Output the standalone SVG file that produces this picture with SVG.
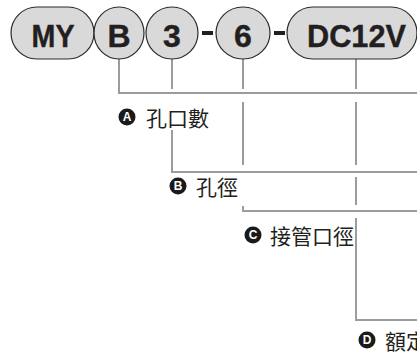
<svg xmlns="http://www.w3.org/2000/svg" width="417" height="354" viewBox="0 0 417 354">
<style>
.pill{fill:#d9d9d9;stroke:#2b2b2b;stroke-width:1.2}
.code{font-family:"Liberation Sans",Arial,sans-serif;font-weight:bold;font-size:32px;fill:#231f20;text-anchor:middle;stroke:#231f20;stroke-width:0.4}
.dash{fill:#231f20}
.conn{fill:none;stroke:#9c9c9c;stroke-width:2}
.badge{fill:#1a1a1a}
.bl{font-family:"Liberation Sans",Arial,sans-serif;font-weight:bold;font-size:12px;fill:#fff;text-anchor:middle}
.lab{font-family:"Noto Sans CJK TC","Noto Sans CJK SC",sans-serif;font-size:21px;fill:#231f20}
</style>
<g id="connectors">
<path class="conn" d="M119,59 V93 H417"/>
<path class="conn" d="M172,59 V89 M172,130 V172 H417"/>
<path class="conn" d="M243,59 V89 M243,102 V165 M243,206 V211 H417"/>
<path class="conn" d="M356,59 V89 M356,102 V165 M356,177 V205 M356,218 V320 H417"/>
</g>
<g id="node-MY">
<rect class="pill" x="11" y="7" width="83" height="52" rx="26" ry="26"/>
<text class="code" x="53" y="46.5" textLength="43" lengthAdjust="spacingAndGlyphs">MY</text>
</g>
<g id="node-B">
<ellipse class="pill" cx="119" cy="33" rx="25" ry="26"/>
<text class="code" x="119" y="46.5">B</text>
</g>
<g id="node-3">
<ellipse class="pill" cx="172" cy="33" rx="26" ry="26"/>
<text class="code" x="172" y="46.5">3</text>
</g>
<rect class="dash" x="202" y="31" width="11" height="4"/>
<g id="node-6">
<ellipse class="pill" cx="243" cy="33" rx="27" ry="26"/>
<text class="code" x="243" y="46.5">6</text>
</g>
<rect class="dash" x="274" y="31" width="11" height="4"/>
<g id="node-DC12V">
<rect class="pill" x="287" y="7" width="130" height="52" rx="26" ry="26"/>
<text class="code" x="356.5" y="46.5" textLength="99" lengthAdjust="spacingAndGlyphs">DC12V</text>
</g>
<g id="label-A">
<circle class="badge" cx="127" cy="117" r="8.5"/>
<text class="bl" x="127" y="121.3">A</text>
<text class="lab" x="146" y="126">孔口數</text>
</g>
<g id="label-B">
<circle class="badge" cx="178" cy="186" r="8.5"/>
<text class="bl" x="178" y="190.3">B</text>
<text class="lab" x="196" y="195">孔徑</text>
</g>
<g id="label-C">
<circle class="badge" cx="253" cy="235" r="8.5"/>
<text class="bl" x="253" y="239.3">C</text>
<text class="lab" x="270" y="244">接管口徑</text>
</g>
<g id="label-D">
<circle class="badge" cx="367" cy="340" r="8.5"/>
<text class="bl" x="367" y="344.3">D</text>
<text class="lab" x="385" y="349">額定</text>
</g>
</svg>
